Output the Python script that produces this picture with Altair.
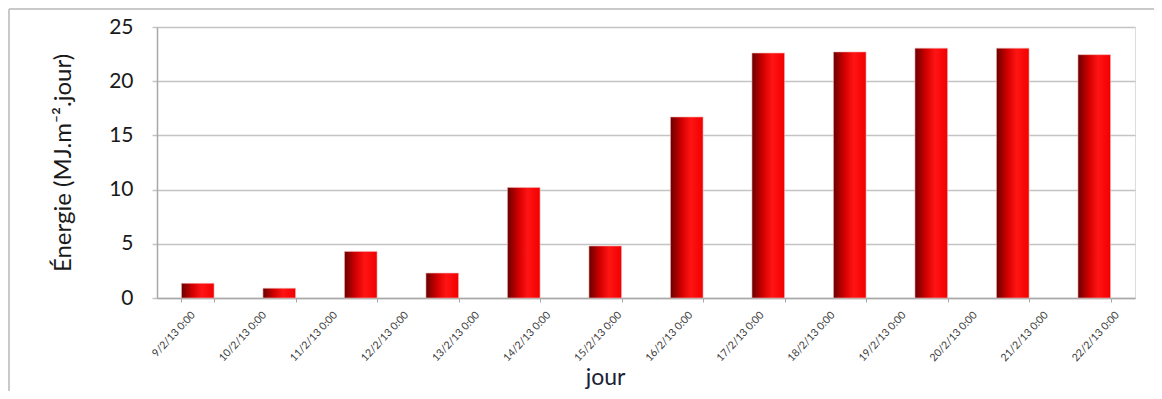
import altair as alt
import pandas as pd

# ---- data ----
bar_days = ["J1", "J2", "J3", "J4", "J5", "J6", "J7", "J8", "J9", "J10", "J11", "J12"]
energy = [1.35, 0.9, 4.3, 2.3, 10.2, 4.8, 16.7, 22.6, 22.7, 23.05, 23.05, 22.45]
date_labels = [
    "9/2/13 0:00", "10/2/13 0:00", "11/2/13 0:00", "12/2/13 0:00", "13/2/13 0:00",
    "14/2/13 0:00", "15/2/13 0:00", "16/2/13 0:00", "17/2/13 0:00", "18/2/13 0:00",
    "19/2/13 0:00", "20/2/13 0:00", "21/2/13 0:00", "22/2/13 0:00",
]
y_ticks = [0, 5, 10, 15, 20, 25]

df_bars = pd.DataFrame({"jour": bar_days, "energie": energy})
df_labels = pd.DataFrame({"date": date_labels})

FONT = "Lato"
TXT = "#1a1a1a"
GRID = "#c4c4c4"
AXIS = "#a8a8a8"

W, H = 978, 271

bar_fill = alt.Gradient(
    gradient="linear",
    stops=[
        alt.GradientStop(color="#6a0000", offset=0),
        alt.GradientStop(color="#d40000", offset=0.35),
        alt.GradientStop(color="#ff1414", offset=0.62),
        alt.GradientStop(color="#f20000", offset=1),
    ],
    x1=0, x2=1, y1=0, y2=0,
)

bars = alt.Chart(df_bars).mark_bar(
    color=bar_fill, stroke="#f0b8b8", strokeWidth=0.6
).encode(
    x=alt.X(
        "jour:N", sort=None,
        scale=alt.Scale(paddingInner=0.6, paddingOuter=0.3),
        axis=alt.Axis(
            labels=False, title=None, ticks=True, tickSize=4, tickBand="extent",
            tickColor=AXIS, domainColor=AXIS, domainWidth=1.5, grid=False,
        ),
    ),
    y=alt.Y(
        "energie:Q",
        scale=alt.Scale(domain=[0, 25]),
        axis=alt.Axis(
            values=y_ticks, title="Énergie (MJ.m⁻².jour)",
            grid=True, gridColor=GRID, gridWidth=1.5,
            domainColor=AXIS, domainWidth=1.5, tickColor=GRID, tickSize=5, tickWidth=1.5,
            labelFont=FONT, labelFontSize=21, labelColor=TXT, labelPadding=19,
            titleFont=FONT, titleFontSize=24, titleFontWeight="normal", titleColor=TXT,
            titlePadding=33,
        ),
    ),
)

labels = alt.Chart(df_labels).mark_point(opacity=0).encode(
    x=alt.X(
        "date:N", sort=None,
        scale=alt.Scale(type="point", padding=0.38, align=0.667),
        axis=alt.Axis(
            orient="bottom", labelAngle=-47, labelAlign="right", labelBaseline="middle",
            domain=False, ticks=False, tickSize=0, grid=False,
            labelFont=FONT, labelFontSize=10.5, labelColor="#3a3a3a", labelPadding=15,
            title="jour", titleFont=FONT, titleFontSize=23, titleFontWeight="normal",
            titleColor="#1c2236", titleX=448, titleY=86, titleBaseline="alphabetic",
            titleAlign="center",
        ),
    ),
    y=alt.value(H),
)

border_top = alt.Chart(df_bars).mark_rule(color="#c8c8c8", strokeWidth=1.5).encode(
    x=alt.value(-148), x2=alt.value(W + 19), y=alt.value(-18)
)
border_left = alt.Chart(df_bars).mark_rule(color="#c8c8c8", strokeWidth=1.5).encode(
    x=alt.value(-148), y=alt.value(-18), y2=alt.value(H + 120)
)

chart = (
    alt.layer(bars, labels, border_top, border_left)
    .resolve_scale(x="independent")
    .resolve_axis(x="independent")
    .properties(
        width=W, height=H,
        autosize=alt.AutoSizeParams(type="none"),
        padding={"left": 149, "top": 19, "right": 19, "bottom": 93},
    )
    .configure_view(stroke=None)
    .configure(background="white")
)

chart.save("out.html", embed_options={"renderer": "svg", "actions": False})
